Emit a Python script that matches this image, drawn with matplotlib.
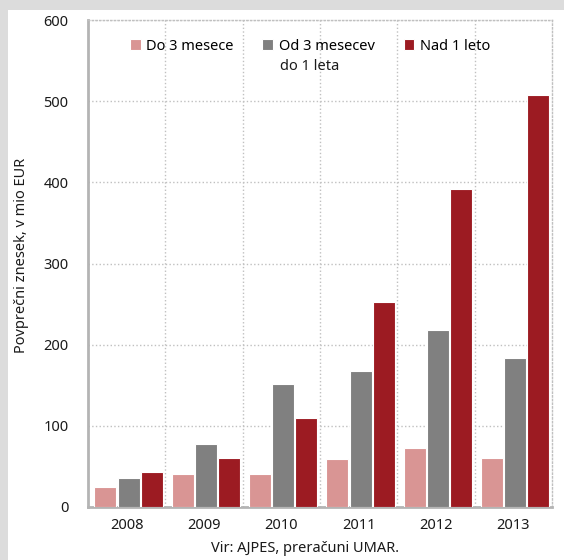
import numpy as np
import matplotlib
matplotlib.use("Agg")
import matplotlib.pyplot as plt
from matplotlib.patches import Rectangle

# --- podatki ---
leta = ["2008", "2009", "2010", "2011", "2012", "2013"]
do_3_mesece = [25, 41, 41, 59, 73, 60]
od_3_do_1_leta = [36, 78, 151, 167, 218, 183]
nad_1_leto = [43, 60, 110, 253, 392, 507]

serije = ["Do 3 mesece", "Od 3 mesecev", "Nad 1 leto"]
barve = ["#d99594", "#808080", "#9c1b22"]

plt.rcParams["font.family"] = ["Noto Sans", "DejaVu Sans"]

fig = plt.figure(figsize=(5.64, 5.60), dpi=100)
fig.patch.set_facecolor("#dcdcdc")
fig.patches.append(Rectangle((8 / 564, 0), 1, 550 / 560, transform=fig.transFigure,
                             facecolor="white", edgecolor="none", zorder=-5))

ax = fig.add_axes([88 / 564, 53 / 560, 464 / 564, 487 / 560])
ax.set_zorder(2)
ax.set_facecolor("white")

x = np.arange(len(leta))
sirina = 0.285
zamik = 0.30
premik = 0.025
for i, (vrednosti, ime, barva) in enumerate(zip([do_3_mesece, od_3_do_1_leta, nad_1_leto], serije, barve)):
    ax.bar(x + premik + (i - 1) * zamik, vrednosti, sirina, color=barva, label=ime,
           edgecolor="white", linewidth=0.8, zorder=3)

ax.set_xlim(-0.5, 5.5)
ax.set_ylim(0, 600)
ax.set_yticks(np.arange(0, 601, 100))
ax.set_xticks(x)
ax.set_xticklabels(leta)
ax.set_xticks(np.arange(0.5, 5.0, 1.0), minor=True)

ax.grid(axis="y", which="major", linestyle=":", color="#c0c0c0", linewidth=1, zorder=0)
ax.grid(axis="x", which="minor", linestyle=":", color="#c0c0c0", linewidth=1, zorder=0)
ax.grid(axis="x", which="major", visible=False)

for s in ["left", "bottom"]:
    ax.spines[s].set_color("#b4b4b4")
    ax.spines[s].set_linewidth(2)
for s in ["top", "right"]:
    ax.spines[s].set_color("#c0c0c0")
    ax.spines[s].set_linestyle(":")
    ax.spines[s].set_linewidth(1)

ax.tick_params(axis="both", which="both", length=0, labelsize=10.5, colors="#1a1a1a")
ax.tick_params(axis="y", pad=14)
ax.tick_params(axis="x", pad=8)

fig.text(22 / 564, 1 - 255 / 560, "Povprečni znesek, v mio EUR", rotation=90,
         ha="center", va="center", fontsize=10.5, color="#1a1a1a")

leg = ax.legend(loc="upper center", bbox_to_anchor=(0.478, 0.962), ncol=3, frameon=False,
                fontsize=10.5, handlelength=0.75, handleheight=0.75, handletextpad=0.35,
                columnspacing=2.0, borderpad=0, borderaxespad=0)
ax.text(0.478, 0.905, "do 1 leta", transform=ax.transAxes, ha="center", va="center",
        fontsize=10.5, color="#1a1a1a")

fig.text(305 / 564, 1 - 548 / 560, "Vir: AJPES, preračuni UMAR.", ha="center", va="center",
         fontsize=10.5, color="#1a1a1a")

fig.savefig("out.png", dpi=100, facecolor=fig.get_facecolor())
